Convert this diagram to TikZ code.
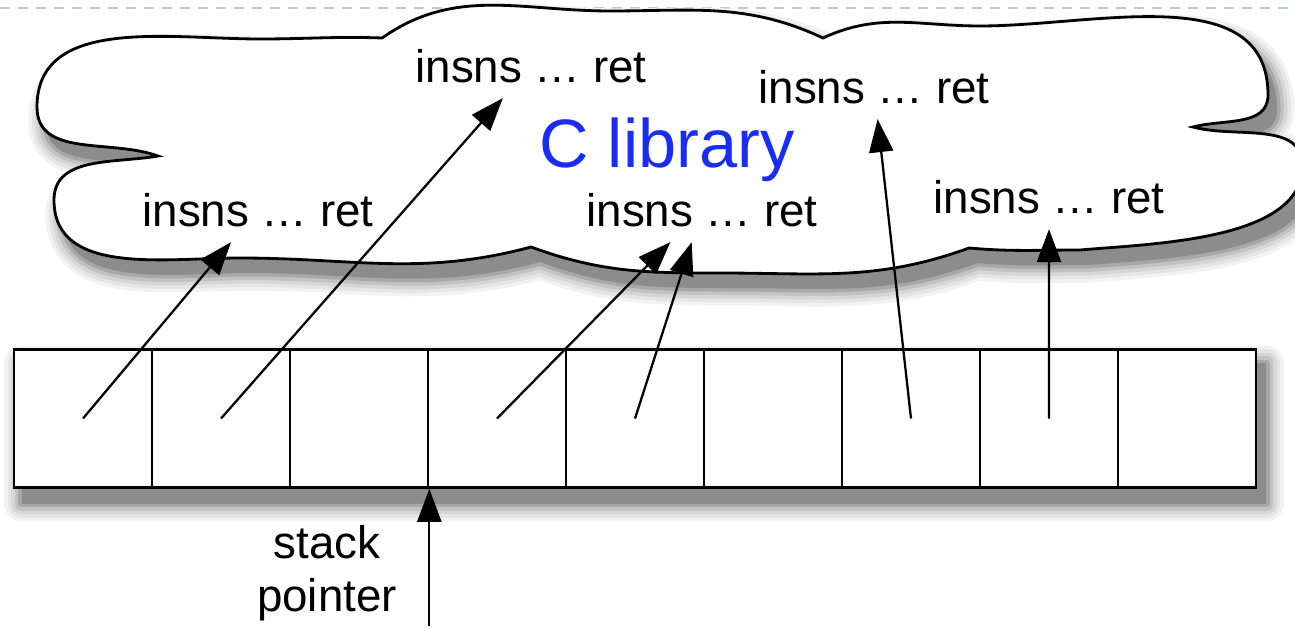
\documentclass[tikz,border=0pt]{standalone}
\usepackage{fontspec}
\setmainfont{Liberation Sans}
\usetikzlibrary{arrows.meta,backgrounds}

\newcommand\cloudpath{(3.16,9.40) to[out=160,in=-90] (0.74,10.38) to[out=90,in=180] (5.2,11.74)
    to[out=0,in=178] (7.64,11.76) to[out=35,in=180] (12.2,12.30)
    to[out=0,in=155] (16.46,11.76) to[out=25,in=180] (19.6,12.0)
    to[out=0,in=90] (25.36,10.62) to[out=-90,in=15] (23.86,9.98)
    to[out=-15,in=90] (26.05,9.2) to[out=-90,in=5,looseness=0.8] (21.6,7.52)
    to[out=180,in=-5] (19.38,7.56) to[out=-160,in=0] (14.4,7.06)
    to[out=180,in=-20] (10.62,7.58) to[out=-165,in=0] (4.8,7.36)
    to[out=180,in=-90] (1.08,8.52) to[out=90,in=190] cycle}

\begin{document}
\begin{tikzpicture}[cell/.style = {draw, line width=1.5pt, minimum size=2.76cm, inner sep=0pt},
                fn/.style = {font=\fontsize{26}{31}\selectfont, inner xsep=2pt, inner ysep=0.3cm},
                ptr/.style = {line width=1.3pt, -{Triangle[length=0.66cm,width=0.48cm]}},
                shadowstep/.style = {transform canvas={shift={(0.18,-0.3)}}, line join=round}]
\useasboundingbox (0,0) rectangle (25.9,12.52);
\draw[color={rgb,255:red,185;green,202;blue,218}, line width=1.6pt,
      dash pattern=on 0.2cm off 0.16cm] (0,12.36) -- (25.9,12.36);
% the library cloud, with its shadow
\foreach \w/\g in {20/5,16/10,12/16,8/24,4/34}
    \draw[shadowstep, line width=\w pt, draw=black!\g, fill=black!\g] \cloudpath;
\fill[shadowstep, black!45] \cloudpath;
\draw[fill=white, line width=1.6pt] \cloudpath;
\node[font=\fontsize{39}{44}\selectfont, text={rgb,255:red,25;green,45;blue,245}] (lib) at (13.34,9.52) {C library};
\node[fn] (L1) at (5.16,8.32) {insns … ret};
\node[fn] (L2) at (10.62,11.20) {insns … ret};
\node[fn] (L3) at (14.04,8.32) {insns … ret};
\node[fn] (L4) at (17.48,10.78) {insns … ret};
\node[fn] (L5) at (20.98,8.58) {insns … ret};
% the stack
\foreach \i in {1,...,9}
    \node[cell, fill=white] (c\i) at ({-1.10+2.76*\i},4.15) {};
\begin{scope}[on background layer]
    \foreach \w/\g in {20/5,16/10,12/16,8/24,4/34}
        \draw[shadowstep, line width=\w pt, draw=black!\g, fill=black!\g] (c1.south west) rectangle (c9.north east);
    \fill[shadowstep, black!45] (c1.south west) rectangle (c9.north east);
\end{scope}
\draw[ptr] (c1.center) -- (L1);
\draw[ptr] (c2.center) -- (L2);
\draw[ptr] (c4.center) -- (L3);
\draw[ptr] (c5.center) -- (L3);
\draw[ptr] (c7.center) -- (L4);
\draw[ptr] (c8.center) -- (L5);
\node[font=\fontsize{26}{30.5}\selectfont, align=center] (sp) at (6.54,1.06) {stack\\pointer};
\coordinate (spfoot) at (c3.south east |- 0,0);
\draw[ptr] (spfoot) -- (c3.south east);
\end{tikzpicture}
\end{document}
